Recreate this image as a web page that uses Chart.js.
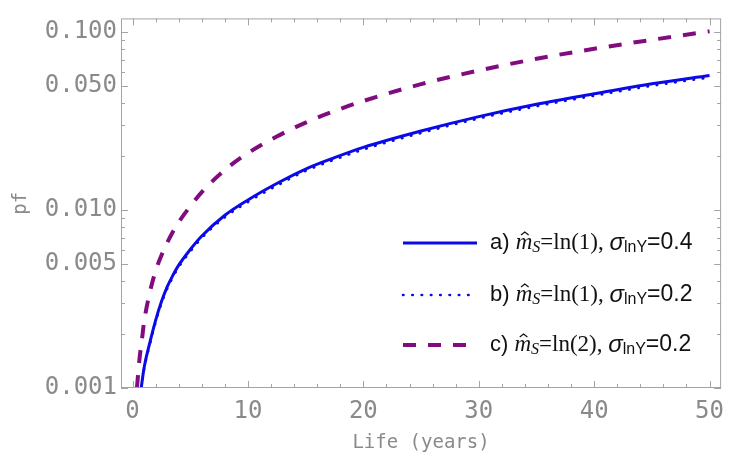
<!DOCTYPE html>
<html>
<head>
<meta charset="utf-8">
<script src="https://cdn.jsdelivr.net/npm/chart.js@4.4.1/dist/chart.umd.min.js"></script>
<style>
  html, body { margin: 0; padding: 0; background: #fff; }
  #wrap { width: 733px; height: 462px; }
</style>
</head>
<body>
<div id="wrap"><canvas id="pfChart"></canvas></div>
<script>
// life in years and probability of failure
const lifeA = [0.75, 1, 1.5, 2, 2.5, 3, 3.5, 4, 5, 6, 8, 10, 12.5, 15, 17.5, 20, 25, 30, 35, 40, 45, 50];
const pfA = [0.00100, 0.00130, 0.00180, 0.00240, 0.00305, 0.00370, 0.00430, 0.00490, 0.00600, 0.00715, 0.00935,
             0.0114, 0.0141, 0.0170, 0.0197, 0.0225, 0.0278, 0.0335, 0.0393, 0.0450, 0.0512, 0.0570];

const lifeB = [0.77, 1, 1.5, 2, 2.5, 3, 3.5, 4, 5, 6, 8, 10, 12.5, 15, 17.5, 20, 25, 30, 35, 40, 45, 50];
const pfB = [0.00100, 0.00127, 0.00176, 0.00234, 0.00298, 0.00361, 0.00420, 0.00478, 0.00585, 0.00697, 0.00912,
             0.0111, 0.0137, 0.0166, 0.0192, 0.0219, 0.0271, 0.0327, 0.0383, 0.0439, 0.0499, 0.0556];

const lifeC = [0.38, 0.6, 0.8, 1, 1.5, 2, 2.5, 3, 3.5, 4, 5, 6, 8, 10, 12.5, 15, 17.5, 20, 25, 30, 35, 40, 45, 50];
const pfC = [0.00100, 0.00145, 0.00184, 0.00235, 0.00345, 0.00455, 0.00555, 0.00655, 0.00755, 0.00855, 0.0105, 0.0126,
             0.0168, 0.0209, 0.0259, 0.0310, 0.0360, 0.0410, 0.0510, 0.0608, 0.0708, 0.0806, 0.0905, 0.1010];

const xTicks = [0, 10, 20, 30, 40, 50];
const yTicks = [0.001, 0.005, 0.01, 0.05, 0.1];
const yMinorTicks = [0.002, 0.003, 0.004, 0.006, 0.007, 0.008, 0.009,
                     0.02, 0.03, 0.04, 0.06, 0.07, 0.08, 0.09];

const legendTags = ['a)', 'b)', 'c)'];
const legendLn = ['=ln(1), ', '=ln(1), ', '=ln(2), '];
const legendSigma = ['=0.4', '=0.2', '=0.2'];

const BLUE = '#0a0ae8';
const PURPLE = '#800c80';
const FRAME = '#a4a4a4';
const LABEL = '#8a8a8a';

function pts(xs, ys) {
    return xs.map((v, i) => ({ x: v, y: ys[i] }));
}

// inward tick marks on all four sides plus the frame
const frameTicks = {
    id: 'frameTicks',
    afterDatasetsDraw(chart) {
        const { ctx, chartArea: a, scales: { x, y } } = chart;
        ctx.save();
        ctx.strokeStyle = FRAME;
        ctx.lineWidth = 1;
        ctx.strokeRect(a.left + 0.5, a.top + 0.5, a.right - a.left - 1, a.bottom - a.top - 1);
        ctx.beginPath();
        for (let v = 0; v <= 50; v += 2) {
            const px = Math.round(x.getPixelForValue(v)) + 0.5;
            const len = v % 10 === 0 ? 7 : 4;
            ctx.moveTo(px, a.bottom); ctx.lineTo(px, a.bottom - len);
            ctx.moveTo(px, a.top); ctx.lineTo(px, a.top + len);
        }
        const yAll = yTicks.map(v => [v, 7]).concat(yMinorTicks.map(v => [v, 4]));
        yAll.forEach(([v, len]) => {
            const py = Math.round(y.getPixelForValue(v)) + 0.5;
            ctx.moveTo(a.left, py); ctx.lineTo(a.left + len, py);
            ctx.moveTo(a.right, py); ctx.lineTo(a.right - len, py);
        });
        ctx.stroke();
        ctx.restore();
    }
};

// legend with math-style labels, drawn inside the plot
const mathLegend = {
    id: 'mathLegend',
    afterDraw(chart) {
        const ctx = chart.ctx;
        const rowsY = [243, 295, 345];
        const lineX0 = 403, lineX1 = 477, textX = 490;
        ctx.save();
        rowsY.forEach((ry, i) => {
            const ds = chart.data.datasets[i];
            ctx.beginPath();
            ctx.strokeStyle = ds.borderColor;
            ctx.lineWidth = ds.borderWidth;
            ctx.lineCap = ds.borderCapStyle || 'butt';
            ctx.setLineDash(ds.borderDash || []);
            ctx.moveTo(lineX0, ry);
            ctx.lineTo(lineX1, ry);
            ctx.stroke();
            ctx.setLineDash([]);

            ctx.fillStyle = '#111';
            ctx.textBaseline = 'middle';
            let x = textX;
            const part = (t, font, dy) => {
                ctx.font = font;
                ctx.fillText(t, x, ry + (dy || 0));
                const w = ctx.measureText(t).width;
                x += w;
                return w;
            };
            part(legendTags[i] + ' ', '22px "Liberation Sans"');
            const mx = x;
            const mw = part('m', 'italic 23px "Liberation Serif"');
            // hat over m
            ctx.beginPath();
            ctx.strokeStyle = '#111';
            ctx.lineWidth = 1.2;
            ctx.lineCap = 'butt';
            ctx.moveTo(mx + mw * 0.32, ry - 8);
            ctx.lineTo(mx + mw * 0.55, ry - 11);
            ctx.lineTo(mx + mw * 0.78, ry - 8);
            ctx.stroke();
            part('S', 'italic 16px "Liberation Serif"', 5);
            part(legendLn[i], '23px "Liberation Serif"');
            part('\u03c3', 'italic 24px "Liberation Sans"');
            part('lnY', '16px "Liberation Sans"', 5);
            part(legendSigma[i], '23px "Liberation Sans"');
        });
        ctx.restore();
    }
};

const ctx = document.getElementById('pfChart').getContext('2d');

const chart = new Chart(ctx, {
    type: 'line',
    data: {
        datasets: [{
            label: 'a',
            data: pts(lifeA, pfA),
            borderColor: BLUE,
            borderWidth: 3,
            pointRadius: 0,
            cubicInterpolationMode: 'monotone'
        }, {
            label: 'b',
            data: pts(lifeB, pfB),
            borderColor: BLUE,
            borderWidth: 2.6,
            borderDash: [0.5, 8.8],
            borderCapStyle: 'round',
            pointRadius: 0,
            cubicInterpolationMode: 'monotone'
        }, {
            label: 'c',
            data: pts(lifeC, pfC),
            borderColor: PURPLE,
            borderWidth: 4,
            borderDash: [13, 12],
            pointRadius: 0,
            cubicInterpolationMode: 'monotone'
        }]
    },
    options: {
        responsive: true,
        maintainAspectRatio: false,
        animation: false,
        layout: { padding: { top: 10, left: 0, right: 0, bottom: 0 }, autoPadding: false },
        plugins: {
            legend: { display: false },
            tooltip: { enabled: false }
        },
        scales: {
            x: {
                type: 'linear',
                min: -1,
                max: 51,
                grid: { display: false, drawTicks: false },
                border: { display: false },
                afterFit: s => { s.height = 74; },
                afterBuildTicks: s => { s.ticks = xTicks.map(v => ({ value: v })); },
                ticks: {
                    color: LABEL,
                    font: { family: '"DejaVu Sans Mono"', size: 24 },
                    padding: 9,
                    maxRotation: 0,
                    callback: v => String(v)
                },
                title: {
                    display: true,
                    text: 'Life (years)',
                    color: LABEL,
                    font: { family: '"DejaVu Sans Mono"', size: 19 },
                    padding: { top: 0, bottom: 8 }
                }
            },
            y: {
                type: 'logarithmic',
                min: 0.001,
                max: 0.1194,
                grid: { display: false, drawTicks: false },
                border: { display: false },
                afterFit: s => { s.width = 121; },
                afterBuildTicks: s => { s.ticks = yTicks.map(v => ({ value: v })); },
                ticks: {
                    color: LABEL,
                    font: { family: '"DejaVu Sans Mono"', size: 24 },
                    padding: 4,
                    callback: v => Number(v).toFixed(3)
                },
                title: {
                    display: true,
                    text: 'pf',
                    color: LABEL,
                    font: { family: '"DejaVu Sans Mono"', size: 19 },
                    padding: { top: 10, bottom: 0 }
                }
            }
        }
    },
    plugins: [frameTicks, mathLegend]
});
</script>
</body>
</html>
